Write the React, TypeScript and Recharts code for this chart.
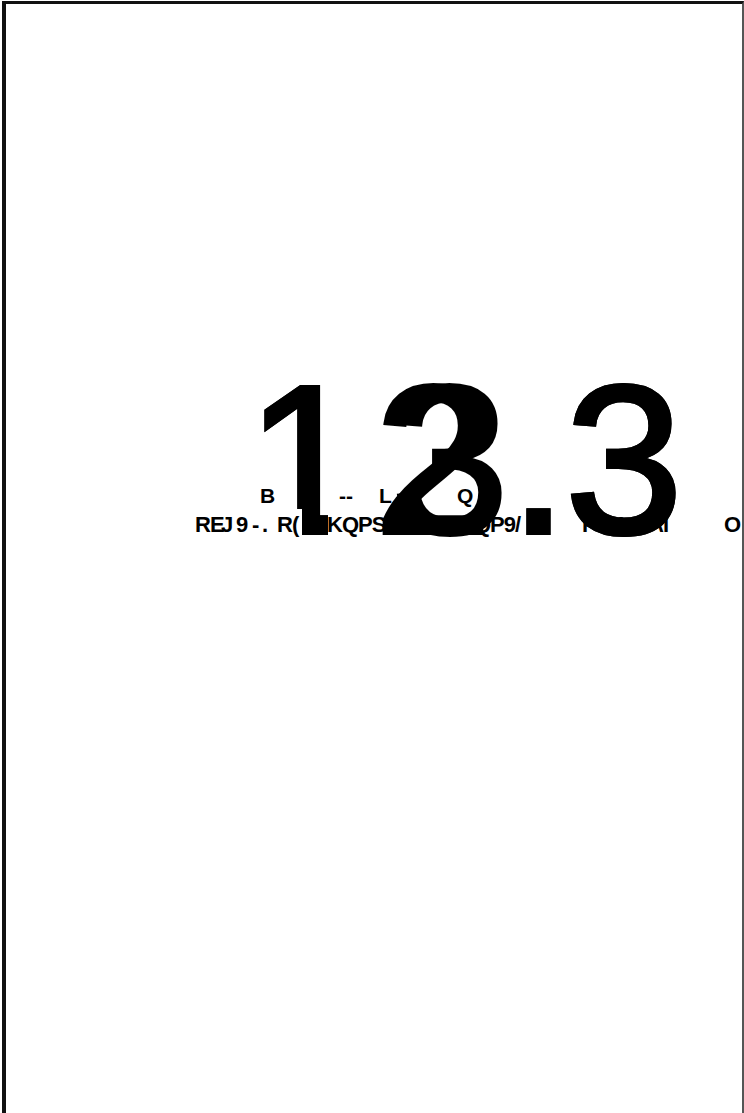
import React from 'react';
import { BarChart, Customized } from 'recharts';

// headline value and its comparison figure, drawn on top of each other
const values = [12.3, 13.3];

// the two rows of (garbled) caption labels under / behind the value
const topLabels = ['B', '--', 'L', 'Q'];
const bottomLabels = ['RE', 'J', '9', '-', '.', 'R(', 'I', 'KQPS', 'QP9/', 'F', 'RI', 'AI', 'O'];

// layout
const topX = [260, 339, 379, 457];
const bottomX = [195, 221, 236, 252, 262, 277, 302, 327, 474, 582, 603, 648, 724];
const valueCharX = [
    [246, 374, 509, 565],
    [246, 391, 509, 565],
];

const W = 744;
const H = 1113;
const BASE = 533;

const FONT = "'Liberation Sans', Arial, sans-serif";

function Tile() {
    return (
        <g>
            <defs>
                {/* the value font has a foot on the "1"; the tile's doesn't */}
                <clipPath id="one-no-foot">
                    <rect x={0} y={0} width={W} height={BASE - 24} />
                    <rect x={0} y={BASE + 5} width={W} height={H} />
                    <rect x={0} y={BASE - 25} width={250} height={32} />
                    <rect x={302} y={BASE - 25} width={26} height={32} />
                    <rect x={400} y={BASE - 25} width={W} height={32} />
                </clipPath>
            </defs>
            {topLabels.map((t, i) => (
                <text key={`t-${i}`} x={topX[i]} y={503} fontFamily={FONT} fontWeight="bold" fontSize={21} fill="#000">
                    {t}
                </text>
            ))}
            {bottomLabels.map((t, i) => (
                <text
                    key={`b-${i}`}
                    x={bottomX[i]}
                    y={532}
                    fontFamily={FONT}
                    fontWeight="bold"
                    fontSize={22}
                    letterSpacing={-1}
                    fill="#000"
                >
                    {t}
                </text>
            ))}
            {values.map((v, i) =>
                v
                    .toFixed(1)
                    .split('')
                    .map((ch, j) => (
                        <text
                            key={`v-${i}-${j}`}
                            x={valueCharX[i][j]}
                            y={BASE}
                            fontFamily={FONT}
                            fontSize={212}
                            fill="#000"
                            stroke="#000"
                            strokeWidth={4}
                            clipPath={ch === '1' ? 'url(#one-no-foot)' : undefined}
                        >
                            {ch}
                        </text>
                    ))
            )}
        </g>
    );
}

export default function App() {
    return (
        <div style={{ position: 'fixed', left: 0, top: 0, width: W, height: H, overflow: 'hidden', background: '#fff' }}>
            <div
                style={{
                    position: 'absolute',
                    left: 2,
                    top: 1,
                    width: W - 2 - 4 - 2,
                    height: H + 20,
                    borderTop: '3px solid #111',
                    borderLeft: '4px solid #111',
                    borderRight: '2px solid #555',
                }}
            />
            <div style={{ position: 'absolute', left: 0, top: 0 }}>
                <BarChart width={W} height={H} data={values.map((v) => ({ v }))} margin={{ top: 0, right: 0, bottom: 0, left: 0 }}>
                    <Customized component={Tile} />
                </BarChart>
            </div>
        </div>
    );
}
